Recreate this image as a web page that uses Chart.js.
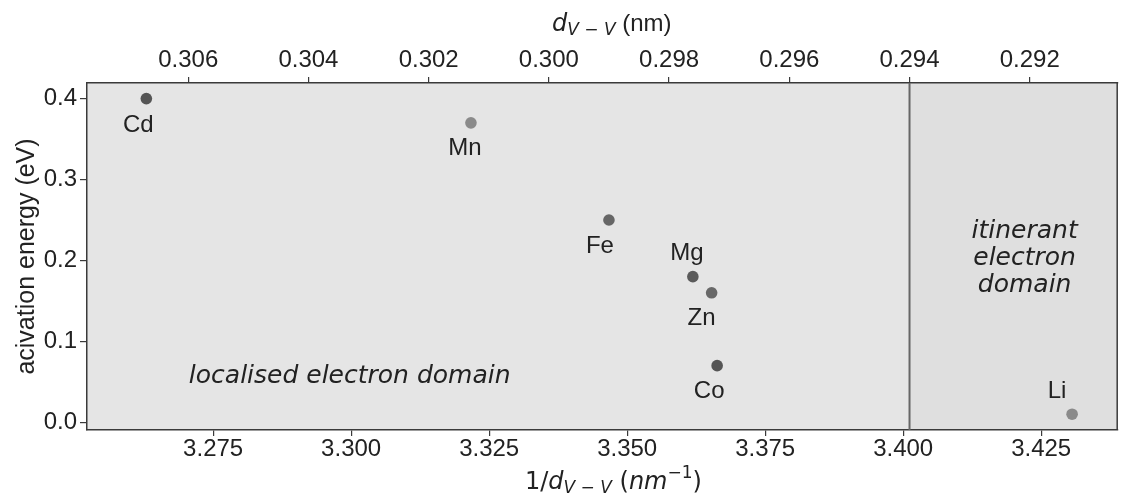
<!DOCTYPE html>
<html>
<head>
<meta charset="utf-8">
<script src="https://cdn.jsdelivr.net/npm/chart.js@4"></script>
<style>
  html, body { margin: 0; padding: 0; background: #ffffff; overflow: hidden; }
  #wrap { width: 1123px; height: 493px; position: relative; }
  canvas { display: block; }
</style>
</head>
<body>
<div id="wrap"><canvas id="chart"></canvas></div>
<script>
// Cation species and their V–V distance / activation energy
const elements = ['Cd', 'Mn', 'Fe', 'Mg', 'Zn', 'Co', 'Li'];
const invDistance = [3.2629, 3.3217, 3.3467, 3.3619, 3.3653, 3.3663, 3.4306]; // 1/d (nm^-1)
const activationEnergy = [0.40, 0.37, 0.25, 0.18, 0.16, 0.07, 0.01];             // eV

// Axis ticks
const bottomTicks = [3.275, 3.300, 3.325, 3.350, 3.375, 3.400, 3.425];
const topTicks = [0.306, 0.304, 0.302, 0.300, 0.298, 0.296, 0.294, 0.292];
const energyTicks = [0.0, 0.1, 0.2, 0.3, 0.4];

// Axis ranges
const invRange = [3.25215, 3.43877];
const distRange = [0.290545, 0.307684];
const energyRange = [-0.0095, 0.41926];

// Boundary between localised and itinerant regimes (d in nm)
const domainBoundary = 0.294;

// Marker shades and label placement (pixel offsets from each marker: dx to label centre, dy to baseline)
const pointColors = ['#555555', '#8a8a8a', '#666666', '#5a5a5a', '#686868', '#555555', '#8a8a8a'];
const labelOffsets = [[-8, 33], [-6, 32], [-9, 33], [-6, -17], [-10, 32], [-8, 32], [-15, -16]];

// Region annotations in data coordinates
const localisedNote = { text: 'localised electron domain', x: 3.2706, y: 0.0491 };
const itinerantNote = { lines: ['itinerant', 'electron', 'domain'], x: 3.4220, y: [0.2272, 0.1942, 0.1612] };

const SANS = '"Liberation Sans", Arial, Helvetica, sans-serif';
const MATH = '"DejaVu Sans", sans-serif';
const TEXT = '#222222';
const AXIS = '#3a3a3a';

function drawRuns(ctx, runs, x0, baseline) {
  let x = x0;
  ctx.textAlign = 'left';
  ctx.textBaseline = 'alphabetic';
  for (const r of runs) {
    ctx.font = r.f;
    ctx.fillText(r.t, x, baseline + (r.dy || 0));
    x += ctx.measureText(r.t).width;
  }
}

const decor = {
  id: 'decor',
  beforeDraw(chart) {
    const { ctx, chartArea: a } = chart;
    const xb = chart.scales.xTop.getPixelForValue(domainBoundary);
    ctx.save();
    ctx.fillStyle = '#ffffff';
    ctx.fillRect(0, 0, chart.width, chart.height);
    ctx.fillStyle = '#e5e5e5';
    ctx.fillRect(a.left, a.top, xb - a.left, a.bottom - a.top);
    ctx.fillStyle = '#dfdfdf';
    ctx.fillRect(xb, a.top, a.right - xb, a.bottom - a.top);
    ctx.restore();
  },
  afterDatasetsDraw(chart) {
    const { ctx, chartArea: a } = chart;
    const xs = chart.scales.x, ys = chart.scales.y;
    const xb = chart.scales.xTop.getPixelForValue(domainBoundary);
    ctx.save();
    // regime boundary
    ctx.strokeStyle = '#666666';
    ctx.lineWidth = 2;
    ctx.beginPath();
    ctx.moveTo(xb, a.top);
    ctx.lineTo(xb, a.bottom);
    ctx.stroke();
    // right frame edge
    ctx.strokeStyle = AXIS;
    ctx.lineWidth = 1.5;
    ctx.beginPath();
    ctx.moveTo(a.right, a.top);
    ctx.lineTo(a.right, a.bottom);
    ctx.stroke();

    // region annotations
    ctx.fillStyle = TEXT;
    ctx.font = 'italic 25px ' + MATH;
    ctx.textBaseline = 'alphabetic';
    ctx.textAlign = 'left';
    ctx.fillText(localisedNote.text, xs.getPixelForValue(localisedNote.x), ys.getPixelForValue(localisedNote.y));
    ctx.textAlign = 'center';
    itinerantNote.lines.forEach((ln, i) => {
      ctx.fillText(ln, xs.getPixelForValue(itinerantNote.x), ys.getPixelForValue(itinerantNote.y[i]));
    });

    // element labels
    const meta = chart.getDatasetMeta(0);
    ctx.font = '24px ' + SANS;
    ctx.textAlign = 'center';
    meta.data.forEach((pt, i) => {
      const [dx, dy] = labelOffsets[i];
      ctx.fillText(elements[i], pt.x + dx, pt.y + dy);
    });
    ctx.restore();
  },
  afterDraw(chart) {
    const { ctx, chartArea: a } = chart;
    ctx.save();
    ctx.fillStyle = TEXT;
    // top axis title: d_{V-V} (nm)
    drawRuns(ctx, [
      { t: 'd', f: 'italic 24px ' + MATH },
      { t: 'V', f: 'italic 17px ' + MATH, dy: 4 },
      { t: ' \u2212 ', f: '17px ' + MATH, dy: 4 },
      { t: 'V', f: 'italic 17px ' + MATH, dy: 4 },
      { t: ' (nm)', f: '24px ' + SANS }
    ], 552, 31);
    // bottom axis title: 1/d_{V-V} (nm^{-1})
    drawRuns(ctx, [
      { t: '1/', f: '24px ' + MATH },
      { t: 'd', f: 'italic 24px ' + MATH },
      { t: 'V', f: 'italic 17px ' + MATH, dy: 4 },
      { t: ' \u2212 ', f: '17px ' + MATH, dy: 4 },
      { t: 'V', f: 'italic 17px ' + MATH, dy: 4 },
      { t: ' (', f: '24px ' + MATH },
      { t: 'nm', f: 'italic 24px ' + MATH },
      { t: '\u22121', f: '17px ' + MATH, dy: -11 },
      { t: ')', f: '24px ' + MATH }
    ], 525, 489);
    // left axis title
    ctx.translate(33.5, (a.top + a.bottom) / 2);
    ctx.rotate(-Math.PI / 2);
    ctx.font = '25px ' + SANS;
    ctx.textAlign = 'center';
    ctx.textBaseline = 'alphabetic';
    ctx.fillText('acivation energy (eV)', 0, 0);
    ctx.restore();
  }
};

const tickFont = { family: SANS, size: 24, lineHeight: 1 };
const noPad = s => { s.paddingLeft = 0; s.paddingRight = 0; s.paddingTop = 0; s.paddingBottom = 0; };

new Chart(document.getElementById('chart'), {
  type: 'scatter',
  data: {
    datasets: [{
      data: invDistance.map((v, i) => ({ x: v, y: activationEnergy[i] })),
      pointBackgroundColor: pointColors,
      pointBorderWidth: 0,
      pointRadius: 5.8,
      pointHoverRadius: 5.8,
      xAxisID: 'x',
      yAxisID: 'y'
    }]
  },
  options: {
    responsive: true,
    maintainAspectRatio: false,
    animation: false,
    events: [],
    layout: { padding: { left: 0, right: 2, top: 0, bottom: 0 } },
    plugins: { legend: { display: false }, tooltip: { enabled: false } },
    scales: {
      x: {
        type: 'linear', position: 'bottom',
        min: invRange[0], max: invRange[1],
        afterBuildTicks: s => { s.ticks = bottomTicks.map(v => ({ value: v })); },
        afterFit: s => { s.height = 63; noPad(s); },
        ticks: { font: tickFont, color: TEXT, padding: 1, maxRotation: 0, autoSkip: false,
                 callback: v => Number(v).toFixed(3) },
        grid: { drawOnChartArea: false, drawTicks: true, tickLength: 6, color: AXIS, lineWidth: 1.2 },
        border: { display: true, color: AXIS, width: 1.5 }
      },
      xTop: {
        type: 'linear', axis: 'x', position: 'top', reverse: true,
        min: distRange[0], max: distRange[1],
        afterBuildTicks: s => { s.ticks = topTicks.map(v => ({ value: v })); },
        afterFit: s => { s.height = 83; noPad(s); },
        ticks: { font: tickFont, color: TEXT, padding: 5, maxRotation: 0, autoSkip: false,
                 callback: v => Number(v).toFixed(3) },
        grid: { drawOnChartArea: false, drawTicks: true, tickLength: 6, color: AXIS, lineWidth: 1.2 },
        border: { display: true, color: AXIS, width: 1.5 }
      },
      y: {
        type: 'linear', position: 'left',
        min: energyRange[0], max: energyRange[1],
        afterBuildTicks: s => { s.ticks = energyTicks.map(v => ({ value: v })); },
        afterFit: s => { s.width = 87; noPad(s); },
        ticks: { font: tickFont, color: TEXT, padding: 3, autoSkip: false,
                 callback: v => Number(v).toFixed(1) },
        grid: { drawOnChartArea: false, drawTicks: true, tickLength: 7, color: AXIS, lineWidth: 1.2 },
        border: { display: true, color: AXIS, width: 1.5 }
      }
    }
  },
  plugins: [decor]
});
</script>
</body>
</html>
